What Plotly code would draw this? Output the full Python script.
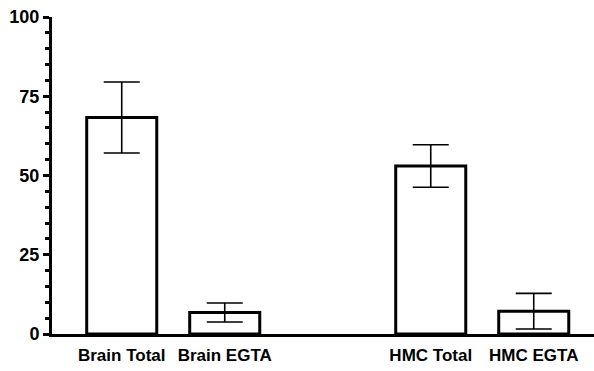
import plotly.graph_objects as go

categories = ["Brain Total", "Brain EGTA", "HMC Total", "HMC EGTA"]
positions = [0, 1, 3, 4]
values = [68.3, 6.8, 53.0, 7.2]
errors = [11.2, 3.0, 6.7, 5.6]
y_ticks = [0, 25, 50, 75, 100]

FONT = "Liberation Sans, Arial, sans-serif"

fig = go.Figure()
fig.add_trace(go.Bar(
    x=positions, y=values, width=0.68,
    marker=dict(color="white", line=dict(color="black", width=3)),
    error_y=dict(type="data", array=errors, visible=True, color="black",
                 thickness=1.6, width=18),
    showlegend=False,
))

fig.update_layout(
    width=594, height=371,
    margin=dict(l=52, r=0, t=17, b=37),
    paper_bgcolor="white", plot_bgcolor="white",
    font=dict(family=FONT, color="black", size=17, weight="bold"),
    xaxis=dict(
        range=[-0.677, 4.585],
        tickvals=positions, ticktext=categories,
        tickangle=0, ticklabeloverflow="allow", automargin=False,
        ticklabelstandoff=4,
        showline=True, linecolor="black", linewidth=3,
        ticks="", showgrid=False, zeroline=False,
        tickfont=dict(family=FONT, size=17, weight="bold"),
    ),
    yaxis=dict(
        range=[0, 100], automargin=False,
        tickvals=y_ticks,
        showline=True, linecolor="black", linewidth=3,
        ticks="outside", ticklen=6, tickwidth=2.5, tickcolor="black",
        minor=dict(ticks="outside", ticklen=4, tickwidth=2.5, dtick=5, tickcolor="black"),
        showgrid=False, zeroline=False,
        tickfont=dict(family=FONT, size=18, weight="bold"),
    ),
)

fig.write_html("out.html")
